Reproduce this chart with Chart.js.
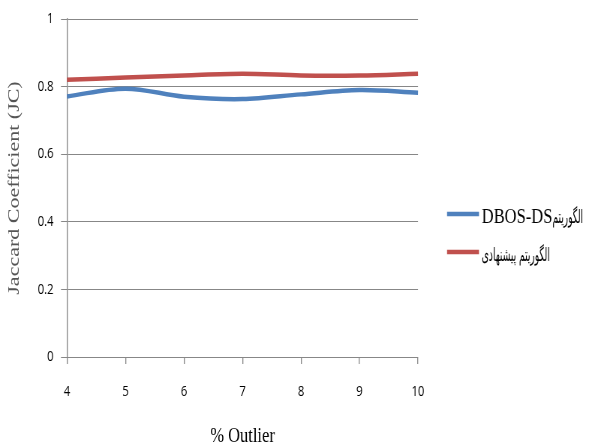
<!DOCTYPE html>
<html>
<head>
<meta charset="utf-8">
<script src="https://cdn.jsdelivr.net/npm/chart.js@4"></script>
<style>
html,body{margin:0;padding:0;background:#fff;overflow:hidden;}
#wrap{width:598px;height:443px;position:relative;overflow:hidden;}
#c{position:absolute;left:0;top:0;transform-origin:0 0;transform:scaleX(0.75031);}
</style>
</head>
<body>
<div id="wrap"><canvas id="c" width="797" height="443"></canvas></div>
<script>
// ---- data ----
const categories = ['4', '5', '6', '7', '8', '9', '10'];
const dbosValues = [0.771, 0.794, 0.770, 0.763, 0.777, 0.790, 0.782];
const proposedValues = [0.820, 0.827, 0.833, 0.838, 0.833, 0.833, 0.838];
const seriesNames = ['DBOS-DSالگوریتم', 'الگوریتم پیشنهادی'];
const yTickLabels = ['0', '0.2', '0.4', '0.6', '0.8', '1'];
const xTitle = '% Outlier';
const yTitle = 'Jaccard Coefficient (JC)';

// ---- style ----
const gridColor = '#878787';
const tickFont = {family: '"Open Sans", Lato, sans-serif', size: 15};

// Legend drawn beside the plot (Excel-like: line swatch + mixed Latin / Persian text)
const sideLegend = {
  id: 'sideLegend',
  afterDraw(chart, args, o) {
    const ctx = chart.ctx;
    const area = chart.chartArea;
    const x0 = area.right + o.offsetX;
    chart.data.datasets.forEach((ds, i) => {
      const y = o.firstY + i * o.spacing;
      ctx.save();
      ctx.strokeStyle = ds.borderColor;
      ctx.lineWidth = o.lineWidth;
      ctx.lineCap = 'butt';
      ctx.beginPath();
      ctx.moveTo(x0, y);
      ctx.lineTo(x0 + o.lineLength, y);
      ctx.stroke();
      let x = x0 + o.lineLength + o.gap;
      const base = y + o.baselineOffset;
      ctx.fillStyle = o.color;
      ctx.textAlign = 'left';
      ctx.textBaseline = 'alphabetic';
      const runs = ds.label.match(/[\u0600-\u06FF\u200c]+(?:\s+[\u0600-\u06FF\u200c]+)*|[^\u0600-\u06FF\u200c]+/g) || [];
      runs.forEach(run => {
        const persian = /[\u0600-\u06FF]/.test(run);
        ctx.save();
        ctx.font = persian ? o.persianFont : o.latinFont;
        const sx = persian ? o.persianScaleX : 1;
        const w = ctx.measureText(run).width * sx;
        ctx.translate(x, base);
        ctx.scale(sx, 1);
        ctx.fillText(run, 0, 0);
        ctx.restore();
        x += w;
      });
      ctx.restore();
    });
  }
};

new Chart(document.getElementById('c'), {
  type: 'line',
  data: {
    labels: categories,
    datasets: [
      {label: seriesNames[0], data: dbosValues, borderColor: '#4F81BD', backgroundColor: '#4F81BD',
       borderWidth: 4.5, pointRadius: 0, tension: 0.35, fill: false},
      {label: seriesNames[1], data: proposedValues, borderColor: '#C0504D', backgroundColor: '#C0504D',
       borderWidth: 4.5, pointRadius: 0, tension: 0.35, fill: false}
    ]
  },
  plugins: [sideLegend],
  options: {
    responsive: false,
    animation: false,
    layout: {padding: {top: 16, left: 6, right: 239.9, bottom: 0}},
    plugins: {
      tooltip: {enabled: false},
      legend: {display: false},
      sideLegend: {
        offsetX: 38.7, lineLength: 42.6, lineWidth: 4.5, gap: 3.6,
        firstY: 214, spacing: 38, baselineOffset: 9,
        color: '#000',
        latinFont: '22px "Liberation Serif", serif',
        persianFont: '19px "DejaVu Sans", sans-serif',
        persianScaleX: 0.64
      }
    },
    scales: {
      x: {
        type: 'category',
        offset: false,
        border: {color: gridColor, width: 1},
        grid: {drawOnChartArea: false, drawTicks: true, tickLength: 7, color: gridColor, lineWidth: 1.33},
        ticks: {color: '#000', font: tickFont, padding: 19, maxRotation: 0, autoSkip: false},
        title: {display: true, text: xTitle, color: '#000',
                font: {family: '"Liberation Serif", serif', size: 22}, padding: {top: 0, bottom: -6}},
        afterFit(scale) { scale.height = 86; }
      },
      y: {
        min: 0, max: 1,
        border: {color: gridColor, width: 1.33},
        grid: {color: gridColor, tickLength: 8, drawTicks: true},
        ticks: {
          stepSize: 0.2, color: '#000', font: tickFont, padding: 10,
          callback: (v, i) => yTickLabels[i]
        },
        title: {display: true, text: yTitle, color: '#555555',
                font: {family: '"Liberation Serif", serif', size: 22}, padding: {top: 0, bottom: 0}},
        afterFit(scale) { scale.width = 83.3; }
      }
    }
  }
});
</script>
</body>
</html>
